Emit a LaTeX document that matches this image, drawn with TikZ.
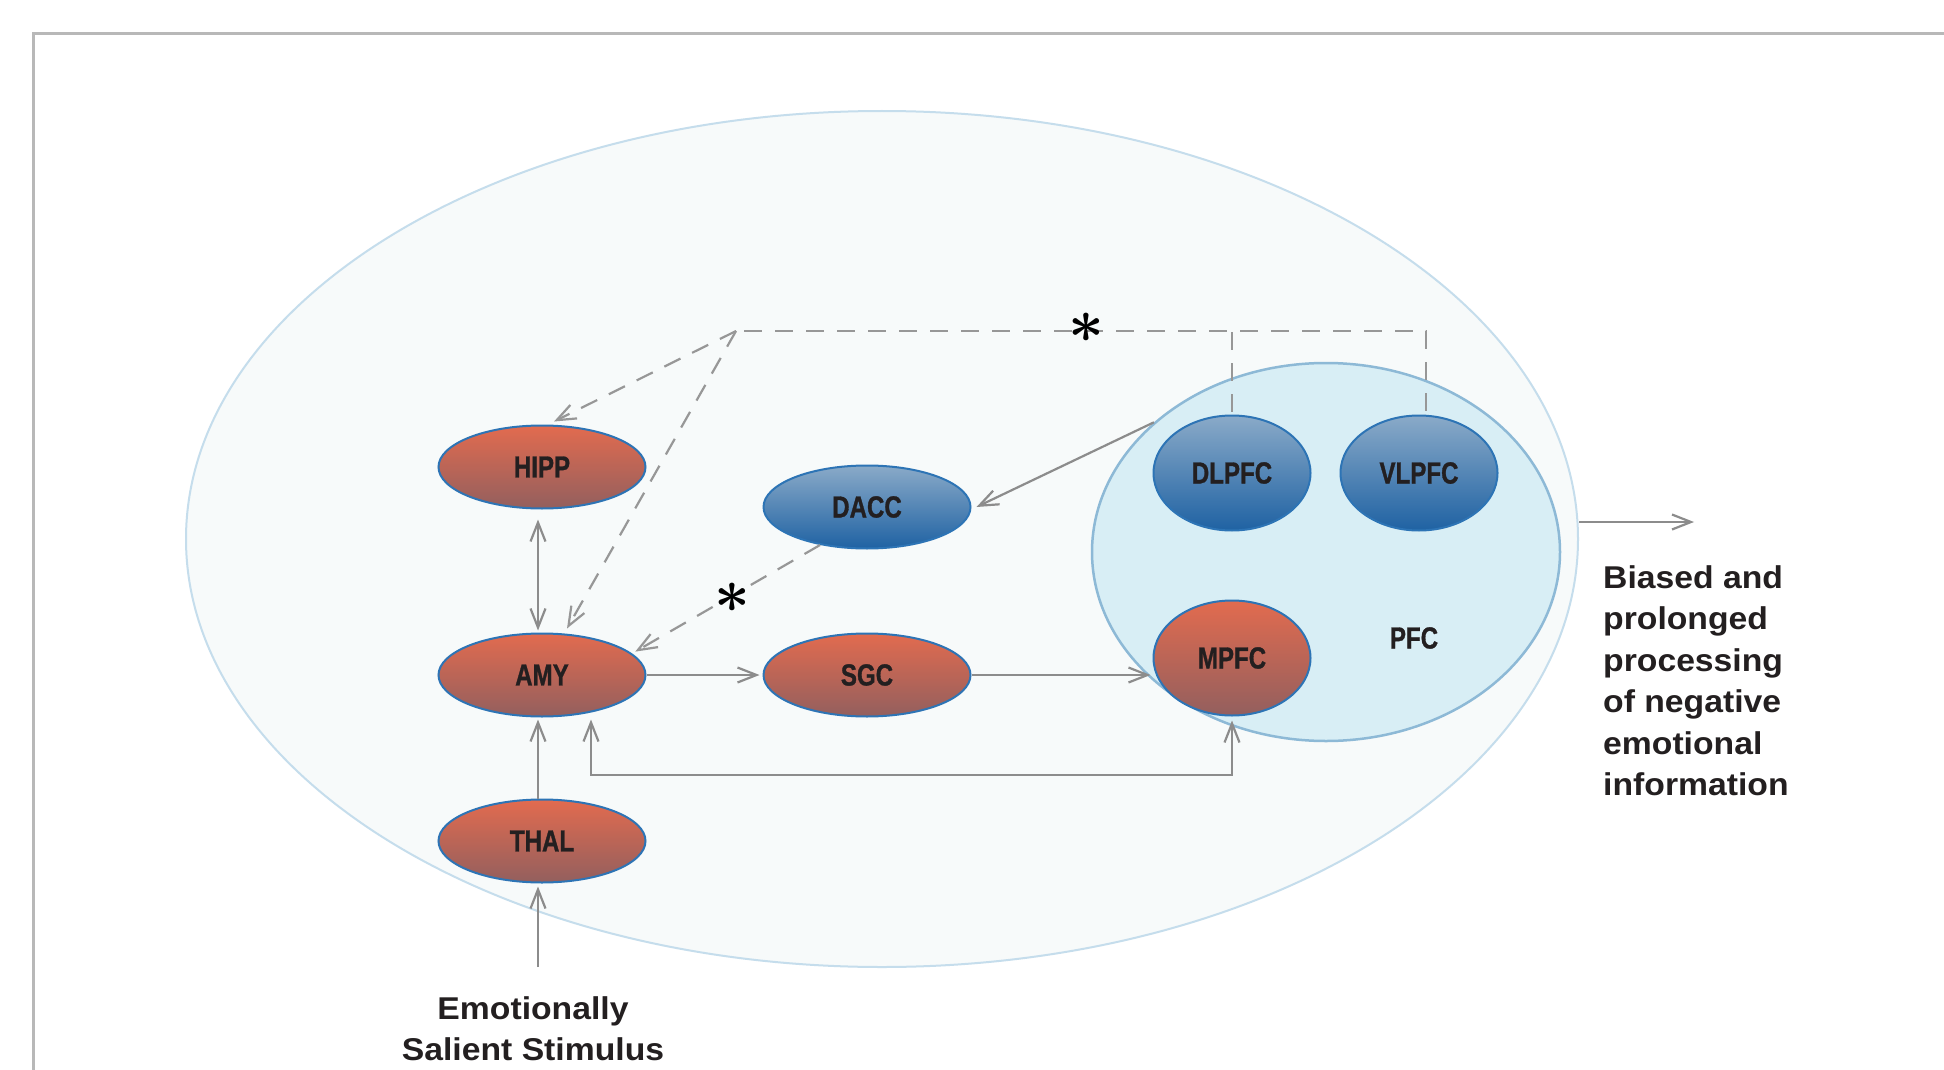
\documentclass[tikz,border=0pt]{standalone}
\usepackage{fontspec}
\setmainfont{Liberation Sans}
\newfontfamily\condfont[FakeStretch=0.79, BoldFeatures={FakeBold=1.0}]{Liberation Sans}
\newfontfamily\widefont[FakeStretch=1.07]{Liberation Sans}
\usetikzlibrary{arrows.meta,shapes.geometric,calc}
\definecolor{framegray}{HTML}{B8B8B8}
\definecolor{bigfill}{HTML}{F7FAFA}
\definecolor{bigline}{HTML}{C5DDEC}
\definecolor{pfcfill}{HTML}{D8EEF5}
\definecolor{pfcline}{HTML}{8DB9D6}
\definecolor{redtop}{HTML}{E26B4F}
\definecolor{redbot}{HTML}{935F5E}
\definecolor{bluetop}{HTML}{8AAAC8}
\definecolor{bluebot}{HTML}{1F62A3}
\definecolor{nodeline}{HTML}{2D74B5}
\definecolor{arrgray}{HTML}{8C8C8C}
\definecolor{textdark}{HTML}{231F20}
\tikzset{
  region/.style={ellipse, draw=nodeline, line width=2pt, inner sep=0pt,
    font=\condfont\bfseries\fontsize{30.5}{30}\selectfont, text=textdark},
  redreg/.style={region, top color=redtop, bottom color=redbot},
  bluereg/.style={region, top color=bluetop, bottom color=bluebot},
  wide/.style={minimum width=207pt, minimum height=83pt},
  roundreg/.style={minimum width=157pt, minimum height=115pt},
  tip/.tip={Straight Barb[length=19pt,width=15pt]},
  arr/.style={draw=arrgray, line width=2.2pt, -tip},
  dsh/.style={draw=arrgray!90, line width=2.2pt, dash pattern=on 18pt off 13pt},
  outtext/.style={font=\widefont\bfseries\fontsize{31.5}{41.5}\selectfont, text=textdark, inner sep=0pt},
  astk/.style={inner sep=0pt, text=black}
}
\newcommand{\bigast}{\scalebox{2.5}{\fontsize{24}{24}\selectfont\boldmath$\ast$}}
\begin{document}
\begin{tikzpicture}[x=1pt,y=-1pt]
\useasboundingbox (0,0) rectangle (1944,1070);
\fill[white] (0,0) rectangle (1944,1070);
% frame
\draw[framegray, line width=3pt] (33,1075) -- (33,34) -- (1950,34);
% containers
\node[ellipse, draw=bigline, fill=bigfill, line width=2pt, inner sep=0pt,
      minimum width=1392pt, minimum height=856pt] (big) at (882,539) {};
\node[ellipse, draw=pfcline, fill=pfcfill, line width=2.5pt, inner sep=0pt,
      minimum width=468pt, minimum height=378pt] (pfc) at (1326,552) {};
\node[font=\condfont\bfseries\fontsize{30.5}{30}\selectfont, text=textdark] (pfclab) at (1414,638) {PFC};
% regions
\node[redreg, wide] (hipp) at (542,467) {HIPP};
\node[redreg, wide] (amy) at (542,675) {AMY};
\node[redreg, wide] (thal) at (542,841) {THAL};
\node[bluereg, wide] (dacc) at (867,507) {DACC};
\node[redreg, wide] (sgc) at (867,675) {SGC};
\node[bluereg, roundreg] (dlpfc) at (1232,473) {DLPFC};
\node[bluereg, roundreg] (vlpfc) at (1419,473) {VLPFC};
\node[redreg, roundreg] (mpfc) at (1232,658) {MPFC};
% texts
\node[outtext, align=left, anchor=north west] (bias) at (1603,565)
  {Biased and\\prolonged\\processing\\of negative\\emotional\\information};
\node[outtext, align=center, anchor=north] (stim) at (533,996)
  {Emotionally\\Salient Stimulus};
% coordinates
\coordinate (corner) at (736,331);
\coordinate (loop) at (591,775);
\coordinate (stimtop) at (538,967);
\coordinate (outend) at (1694,522);
% dashed connections
\draw[dsh] ([xshift=7pt,yshift=4pt]vlpfc.north) |- (corner);
\draw[dsh] ([yshift=3pt]dlpfc.north) -- (dlpfc.north |- corner);
\draw[dsh, -tip] (corner) -- ([xshift=12pt,yshift=3pt]hipp.north);
\draw[dsh, -tip] (corner) -- ([xshift=25pt,yshift=4pt]amy.north);
\draw[dsh, -tip] (dacc.219) -- ([xshift=6pt]amy.15);
\node[astk] (ast1) at (732,598) {\bigast};
\node[astk] (ast2) at (1086,328) {\bigast};
% solid connections
\draw[arr] (pfc.143.5) -- ([xshift=5pt]dacc.east);
\draw[arr, tip-tip] ([xshift=-4pt,yshift=-10pt]hipp.south) -- ([xshift=-4pt,yshift=2pt]amy.north);
\draw[arr] (amy.east) -- ([xshift=-3pt]sgc.west);
\draw[arr] (sgc.east) -- ([xshift=-2pt]sgc.east -| mpfc.west);
\draw[arr, tip-tip] ([xshift=49pt,yshift=-2pt]amy.south) |- (loop) -| ([yshift=-4pt]mpfc.south);
\draw[arr] ([xshift=-4pt]thal.north) -- ([xshift=-4pt,yshift=-2pt]amy.south);
\draw[arr] (stimtop) -- ([xshift=-4pt,yshift=-3pt]thal.south);
\draw[arr] (big.east |- outend) -- (outend);
\end{tikzpicture}
\end{document}
